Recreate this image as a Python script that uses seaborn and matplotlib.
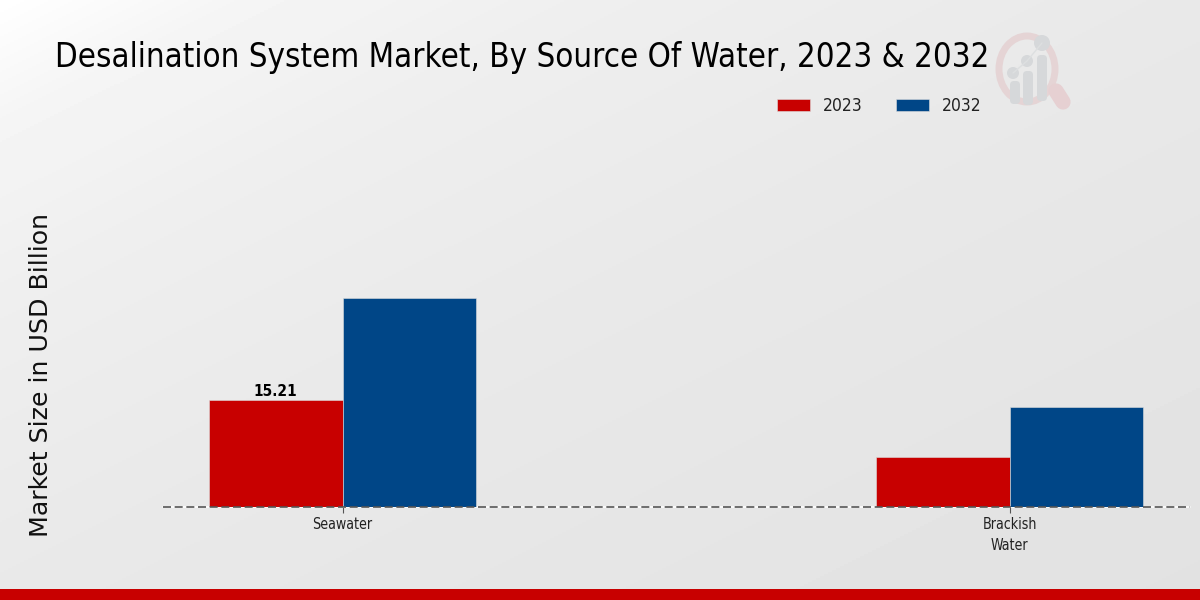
import numpy as np
import pandas as pd
import matplotlib
matplotlib.use("Agg")
import matplotlib.pyplot as plt
from matplotlib import font_manager as fm
from matplotlib.patches import Circle, Ellipse, FancyBboxPatch, Rectangle
from fontTools.ttLib import TTFont
import seaborn as sns

categories = ["Seawater", "Brackish\nWater"]
years = ["2023", "2032"]
values_2023 = [15.21, 7.1]
values_2032 = [29.7, 14.2]
colors = ["#C80000", "#004687"]


def narrow_font(weight, out_path, scale=0.87):
    # no DejaVu Sans Condensed installed, so squeeze the normal face
    src = fm.findfont(fm.FontProperties(family="DejaVu Sans", weight=weight))
    font = TTFont(src)
    glyf = font["glyf"]
    for name in font.getGlyphOrder():
        glyph = glyf[name]
        if glyph.isComposite():
            for comp in glyph.components:
                comp.x = round(comp.x * scale)
        elif glyph.numberOfContours > 0:
            glyph.coordinates.scale((scale, 1))
            glyph.coordinates.toInt()
        adv, lsb = font["hmtx"][name]
        font["hmtx"][name] = (round(adv * scale), round(lsb * scale))
    if "kern" in font:
        for table in font["kern"].kernTables:
            table.kernTable = {k: round(v * scale) for k, v in table.kernTable.items()}
    font.save(out_path)
    return out_path


sns.set_theme(style="white")
plt.rcParams["font.family"] = ["DejaVu Sans"]

regular_path = narrow_font("normal", "narrow.ttf")
bold_path = narrow_font("bold", "narrow_bold.ttf")

df = pd.DataFrame({
    "source": categories * 2,
    "year": [years[0]] * 2 + [years[1]] * 2,
    "value": values_2023 + values_2032,
})

fig = plt.figure(figsize=(12, 6), dpi=100)

# background gradient, light corner top left
bg = fig.add_axes([0, 0, 1, 1], zorder=0)
yy, xx = np.mgrid[0:1:300j, 0:1:600j]
shade = np.interp((xx + yy) / 2, [0, 0.1, 0.25, 0.5, 1], [1.0, 0.96, 0.935, 0.912, 0.885])
bg.imshow(shade, cmap="gray", vmin=0, vmax=1, aspect="auto", extent=[0, 1200, 600, 0])
bg.set_xlim(0, 1200)
bg.set_ylim(600, 0)
bg.axis("off")
bg.add_patch(Rectangle((0, 589), 1200, 11, color="#C80000", lw=0))

# logo
bg.add_patch(Ellipse((1027, 69), 56, 66, fill=False, edgecolor="#E5D4D5", lw=5))
bg.plot([1056, 1063], [91, 102], color="#E6D0D2", lw=11, solid_capstyle="round")
bg.plot([1013, 1027, 1042], [73, 61, 43], color="#DDDFE0", lw=1)
for x, y, r in [(1013, 73, 6), (1027, 61, 6), (1042, 43, 8)]:
    bg.add_patch(Circle((x, y), r, color="#D6D8DA", lw=0))
for x, top, bottom in [(1015, 81, 104), (1028, 71, 105), (1042, 55, 101)]:
    bg.add_patch(FancyBboxPatch((x - 5, top), 10, bottom - top, boxstyle="round,pad=0,rounding_size=4", color="#D6D8DA", lw=0))

ax = fig.add_axes([163 / 1200, (600 - 507) / 600, (1190 - 163) / 1200, (507 - 130) / 600], zorder=1)
ax.patch.set_alpha(0)
sns.barplot(data=df, x="source", y="value", hue="year", palette=colors, width=0.4, saturation=1,
            edgecolor="#DDDDDD", linewidth=0.4, ax=ax, zorder=2)

ax.set_xlim(-0.269, 1.27)
ax.set_ylim(0, 53.6)
ax.set_yticks([])
ax.set_xlabel("")
ax.set_ylabel("")
for side in ["top", "left", "right", "bottom"]:
    ax.spines[side].set_visible(False)
ax.axhline(0, color="white", lw=1.2, zorder=1, clip_on=False)
ax.axhline(0, color="#555555", lw=1.2, dashes=(4.8, 2.2), zorder=3, clip_on=False)
ax.tick_params(axis="x", length=4, width=0.8, color="#555555", pad=3, bottom=True)
for lab in ax.get_xticklabels():
    lab.set_fontproperties(fm.FontProperties(fname=regular_path, size=10.5))
    lab.set(color="#222222", linespacing=1.5)

ax.bar_label(ax.containers[0], labels=["15.21", ""], color="black", padding=1,
             fontproperties=fm.FontProperties(fname=bold_path, size=11.4))

handles, labels = ax.get_legend_handles_labels()
ax.legend(handles, labels, ncol=2, frameon=False, loc="center left",
          bbox_to_anchor=(761 / 1200, 1 - 106 / 600), bbox_transform=fig.transFigure,
          prop=fm.FontProperties(fname=regular_path, size=13), handlelength=1.83, handleheight=0.66,
          columnspacing=1.83, handletextpad=0.72, labelcolor="#222222")

fig.text(55 / 1200, 1 - 58 / 600, "Desalination System Market, By Source Of Water, 2023 & 2032",
         color="black", va="center", ha="left", zorder=5,
         fontproperties=fm.FontProperties(fname=regular_path, size=24.5))
fig.text(41 / 1200, 1 - 375 / 600, "Market Size in USD Billion", rotation=90, fontsize=18.2,
         color="#111111", va="center", ha="center", zorder=5)

fig.savefig("out.png", dpi=100)
